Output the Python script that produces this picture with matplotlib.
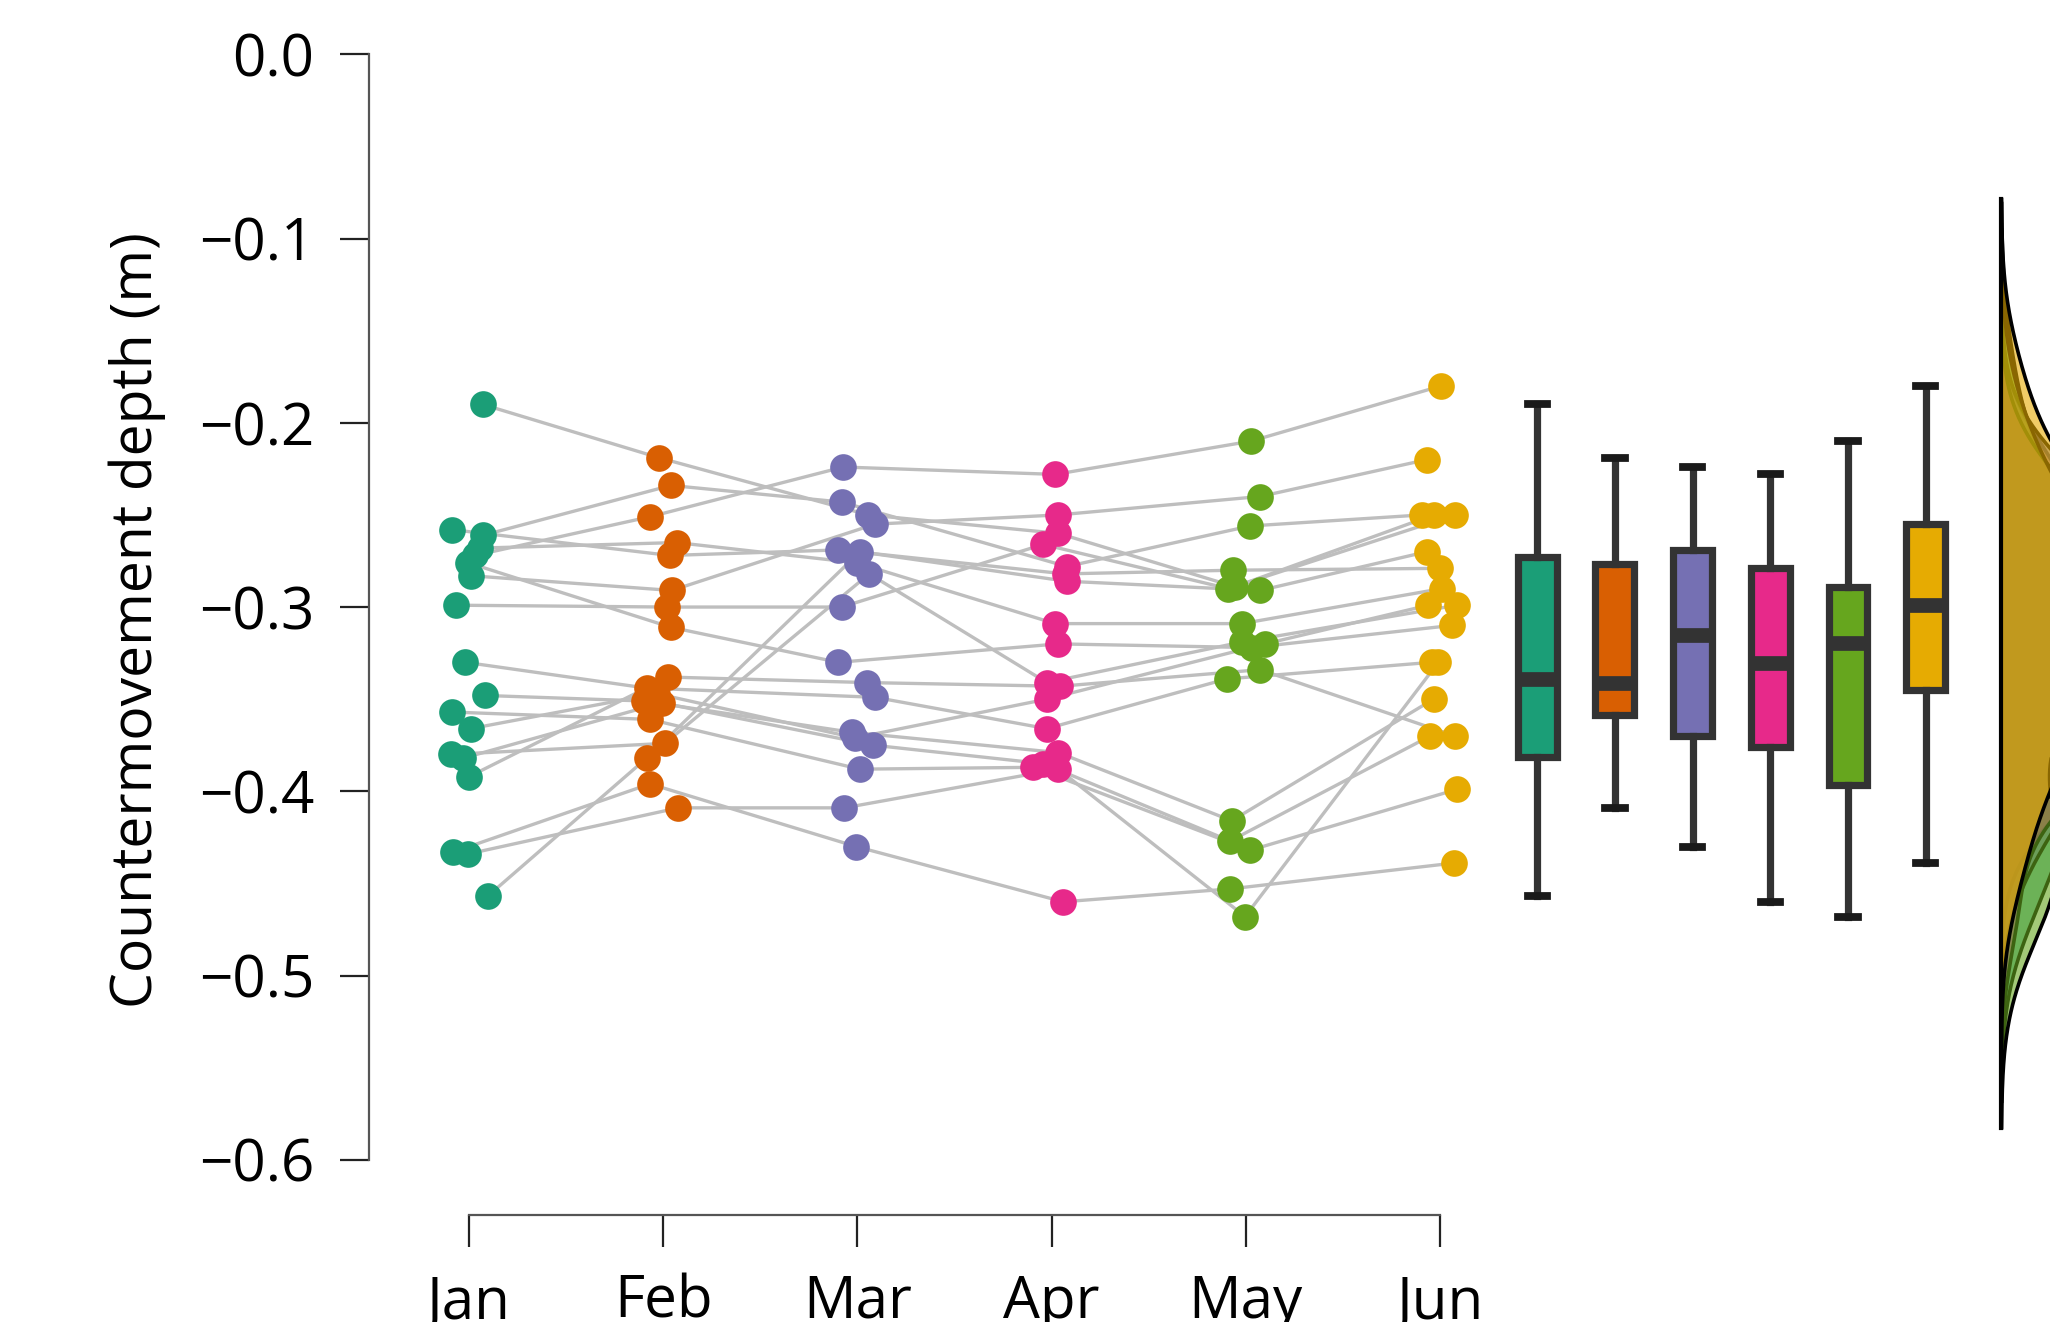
import numpy as np
import matplotlib
matplotlib.use("Agg")
import matplotlib.pyplot as plt

plt.rcParams["font.family"] = ["Open Sans", "DejaVu Sans"]

months = ["Jan", "Feb", "Mar", "Apr", "May", "Jun"]
colors = ["#1B9E77", "#D95F02", "#7570B3", "#E7298A", "#66A61E", "#E6AB02"]
y_ticks = [0.0, -0.1, -0.2, -0.3, -0.4, -0.5, -0.6]
y_tick_labels = ["0.0", "\u22120.1", "\u22120.2", "\u22120.3", "\u22120.4", "\u22120.5", "\u22120.6"]

# countermovement depth (m); row i is the same athlete in every month
jan = [-0.190, -0.258, -0.261, -0.268, -0.272, -0.276, -0.283, -0.299, -0.330,
       -0.348, -0.357, -0.366, -0.380, -0.382, -0.392, -0.433, -0.434, -0.457]
feb = [-0.219, -0.272, -0.234, -0.265, -0.251, -0.311, -0.291, -0.300, -0.344,
       -0.351, -0.361, -0.347, -0.374, -0.352, -0.338, -0.396, -0.409, -0.382]
mar = [-0.250, -0.269, -0.243, -0.276, -0.224, -0.330, -0.255, -0.300, -0.349,
       -0.368, -0.388, -0.371, -0.282, -0.375, -0.341, -0.430, -0.409, -0.270]
apr = [-0.260, -0.282, -0.278, -0.309, -0.228, -0.320, -0.250, -0.266, -0.366,
       -0.379, -0.387, -0.350, -0.341, -0.385, -0.343, -0.460, -0.388, -0.286]
may = [-0.289, -0.280, -0.256, -0.309, -0.210, -0.322, -0.240, -0.290, -0.339,
       -0.416, -0.432, -0.320, -0.319, -0.427, -0.334, -0.453, -0.468, -0.291]
jun = [-0.250, -0.279, -0.250, -0.290, -0.180, -0.310, -0.220, -0.250, -0.330,
       -0.350, -0.399, -0.299, -0.299, -0.370, -0.370, -0.439, -0.330, -0.270]

# horizontal jitter of each dot around its month (x units)
jan_dx = [0.07, -0.086, 0.074, 0.057, 0.031, -0.003, 0.009, -0.069, -0.019,
          0.082, -0.086, 0.009, -0.093, -0.029, 0.002, -0.081, -0.003, 0.096]
feb_dx = [-0.02, 0.035, 0.04, 0.069, -0.068, 0.04, 0.044, 0.018, -0.085,
          -0.1, -0.068, -0.034, 0.009, -0.008, 0.026, -0.068, 0.078, -0.085]
mar_dx = [0.056, -0.098, -0.081, -0.004, -0.073, -0.098, 0.091, -0.081, 0.091,
          -0.029, 0.013, -0.012, 0.061, 0.082, 0.051, -0.007, -0.067, 0.013]
apr_dx = [0.035, 0.069, 0.078, 0.018, 0.018, 0.035, 0.035, -0.043, -0.025,
          0.035, -0.094, -0.025, -0.025, -0.043, 0.043, 0.06, 0.035, 0.078]
may_dx = [-0.056, -0.064, 0.022, -0.021, 0.025, 0.03, 0.073, -0.09, -0.098,
          -0.073, 0.022, 0.099, -0.021, -0.081, 0.073, -0.081, -0.004, 0.073]
jun_dx = [-0.034, 0.0, -0.094, 0.009, 0.005, 0.06, -0.069, 0.077, -0.043,
          -0.034, 0.086, -0.06, 0.086, -0.051, 0.077, 0.069, -0.009, -0.069]

depth = [np.array(v) for v in (jan, feb, mar, apr, may, jun)]
jitter = [np.array(v) for v in (jan_dx, feb_dx, mar_dx, apr_dx, may_dx, jun_dx)]
month_x = np.arange(1, 7)

W, H = 2050, 1322
fig = plt.figure(figsize=(W / 200, H / 200), dpi=200)
left_px, bottom_px = 369.3, 107.0
ax = fig.add_axes([left_px / W, bottom_px / H, 1 - left_px / W, 1 - bottom_px / H])
ax.set_xlim(0.487, 9.14)
ax.set_ylim(-0.630, 0.0295)

# athlete trajectories
n = len(jan)
for i in range(n):
    xs = [month_x[m] + jitter[m][i] for m in range(6)]
    ys = [depth[m][i] for m in range(6)]
    ax.plot(xs, ys, color="#BEBEBE", lw=1.2, zorder=1, solid_capstyle="round")

# monthly dots
for m in range(6):
    ax.plot(month_x[m] + jitter[m], depth[m], "o", ms=9.6, mew=0,
            color=colors[m], zorder=3)

# boxplots to the right of the dots
box_pos = 6.5 + 0.4 * np.arange(6)
bp = ax.boxplot(depth, positions=box_pos, widths=0.2, patch_artist=True,
                manage_ticks=False, showfliers=False,
                boxprops=dict(edgecolor="#333333", linewidth=2.6),
                medianprops=dict(color="#333333", linewidth=5.3, solid_capstyle="butt"),
                whiskerprops=dict(color="#333333", linewidth=2.6),
                capprops=dict(color="#1a1a1a", linewidth=2.8),
                zorder=3)
for patch, c in zip(bp["boxes"], colors):
    patch.set_facecolor(c)

# half-violin densities
base = 8.89
scale = 0.11
lo_all, hi_all = 0.0, -1.0
for m, v in enumerate(depth):
    q75, q25 = np.percentile(v, [75, 25])
    bw = 0.9 * min(v.std(ddof=1), (q75 - q25) / 1.34) * len(v) ** -0.2
    grid = np.linspace(v.min() - 3 * bw, v.max() + 3 * bw, 512)
    dens = np.exp(-0.5 * ((grid[:, None] - v[None, :]) / bw) ** 2).sum(1)
    dens /= len(v) * bw * np.sqrt(2 * np.pi)
    ax.fill_betweenx(grid, base, base + scale * dens, facecolor=colors[m],
                     alpha=0.6, edgecolor="none", zorder=2)
    ax.plot(base + scale * dens, grid, color="black", lw=1.3, zorder=2)
    lo_all = min(lo_all, grid.min())
    hi_all = max(hi_all, grid.max())
ax.plot([base, base], [lo_all, hi_all], color="black", lw=1.5, zorder=2)

# axes styling
for s in ("top", "right"):
    ax.spines[s].set_visible(False)
ax.spines["left"].set_bounds(-0.6, 0.0)
ax.spines["bottom"].set_bounds(1, 6)
for s in ("left", "bottom"):
    ax.spines[s].set_color("#555555")
    ax.spines[s].set_linewidth(0.8)

ax.set_yticks(y_ticks)
ax.set_yticklabels(y_tick_labels)
ax.set_xticks(month_x)
ax.set_xticklabels(months)
ax.tick_params(axis="y", length=10.4, width=0.8, pad=9.5, labelsize=21,
               color="#222222")
ax.tick_params(axis="x", length=11.5, width=0.8, pad=9.5, labelsize=21,
               color="#222222")

ax.set_ylabel("Countermovement depth (m)", fontsize=20.5)
ax.yaxis.set_label_coords(-0.121, 0.49)

fig.savefig("out.png", dpi=200)
